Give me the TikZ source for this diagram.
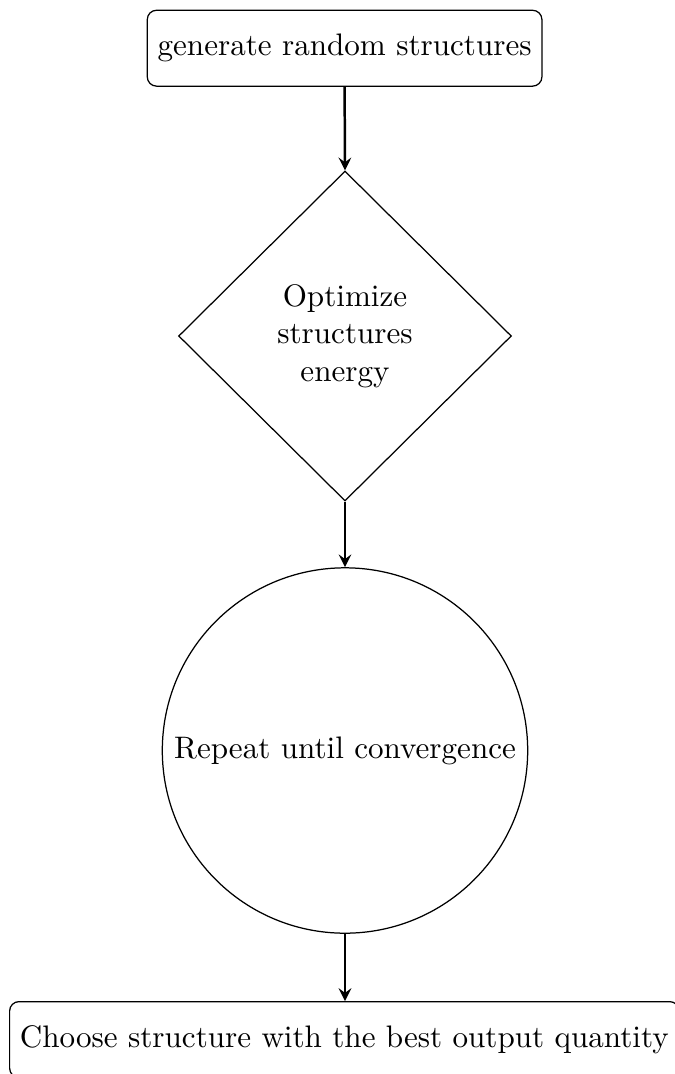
\documentclass[tikz,border=0pt]{standalone}
\usetikzlibrary{shapes.geometric}
\begin{document}
\begin{tikzpicture}[x=0.32148pt,y=0.32148pt,
  stepbox/.style={draw, rounded corners=3pt, minimum height=24.4pt, inner sep=3.33pt},
  decision/.style={draw, diamond, align=center, minimum width=107pt, minimum height=106.1pt, inner sep=0pt},
  loopnode/.style={draw, circle},
  flow/.style={->, >=stealth, thick}]
  \useasboundingbox (0,0) rectangle (675,-1074);
  \node[stepbox] (gen) at (344.6,-48.2) {generate random structures};
  \node[decision] (opt) at (345,-336) {Optimize\\structures\\energy};
  \node[loopnode] (rep) at (345,-750.5) {Repeat until convergence};
  \node[stepbox, anchor=north west] (best) at (9,-1001) {Choose structure with the best output quantity};
  \draw[flow] (gen.south) -- (opt.north);
  \draw[flow] (opt.south) -- (rep.north);
  \draw[flow] (rep.south) -- (rep.south |- best.north);
\end{tikzpicture}
\end{document}
